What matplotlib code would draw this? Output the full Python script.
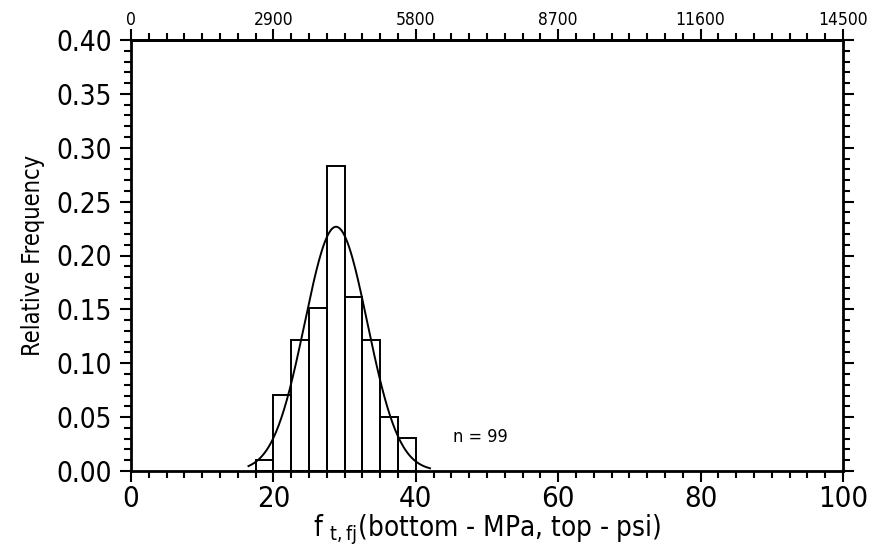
import numpy as np
import matplotlib
matplotlib.use('Agg')
from matplotlib import pyplot as plt
from matplotlib import font_manager
from matplotlib.ticker import MultipleLocator, FormatStrFormatter

# look for a narrow face, the original uses a very condensed plotter font
narrow = [f for f in font_manager.fontManager.ttflist
          if ('Narrow' in f.name or f.stretch in ('condensed', 'semi-condensed', 'extra-condensed'))
          and f.weight in (400, 'normal', 'regular')]
if narrow:
    plt.rcParams['font.family'] = [narrow[0].name, 'DejaVu Sans']
    plt.rcParams['font.stretch'] = narrow[0].stretch
    scale = 1.0
else:
    plt.rcParams['font.family'] = ['Liberation Sans', 'DejaVu Sans']
    scale = 0.9
plt.rcParams['mathtext.default'] = 'regular'

# histogram data (MPa), n = 99
bin_edges = [17.5, 20, 22.5, 25, 27.5, 30, 32.5, 35, 37.5, 40]
counts = [1, 7, 12, 15, 28, 16, 12, 5, 3]
n_total = 99
# fitted normal curve
fit_mean = 28.8
fit_std = 4.4

rel_freq = np.array(counts) / n_total
edges = np.array(bin_edges)
widths = np.diff(edges)

fig = plt.figure(figsize=(8.69, 5.56), dpi=100)
ax = fig.add_axes([131/869, 1-471/556, (843-131)/869, (471-40)/556])

ax.bar(edges[:-1], rel_freq, width=widths, align='edge', facecolor='none',
       edgecolor='black', linewidth=1.4)

xc = np.linspace(16.5, 42, 200)
yc = widths[0] * np.exp(-0.5*((xc-fit_mean)/fit_std)**2) / (fit_std*np.sqrt(2*np.pi))
ax.plot(xc, yc, color='black', linewidth=1.4)

ax.text(49, 0.032, 'n = 99', ha='center', va='center', fontsize=13*scale)

ax.set_xlim(0, 100)
ax.set_ylim(0, 0.40)
ax.xaxis.set_major_locator(MultipleLocator(20))
ax.xaxis.set_minor_locator(MultipleLocator(2.5))
ax.yaxis.set_major_locator(MultipleLocator(0.05))
ax.yaxis.set_minor_locator(MultipleLocator(0.01))
ax.yaxis.set_major_formatter(FormatStrFormatter('%.2f'))
ax.tick_params(which='both', direction='out', right=True, width=1.5)
ax.tick_params(axis='y', which='major', length=8, labelsize=20*scale, pad=6)
ax.tick_params(axis='x', which='major', length=8, labelsize=21*scale, pad=2)
ax.tick_params(which='minor', length=5)
for s in ax.spines.values():
    s.set_linewidth(2)

top = ax.secondary_xaxis('top', functions=(lambda x: x*145, lambda p: p/145))
top.xaxis.set_major_locator(MultipleLocator(2900))
top.xaxis.set_minor_locator(MultipleLocator(362.5))
top.tick_params(which='both', direction='out', width=1.5)
top.tick_params(which='major', length=8, labelsize=12.5*scale, pad=0)
top.tick_params(which='minor', length=5)
top.spines['top'].set_linewidth(2)

ax.set_ylabel('Relative Frequency', fontsize=17*scale, labelpad=8)
ax.set_xlabel(r'f $_{t,fj}$(bottom - MPa, top - psi)', fontsize=20*scale, labelpad=0)

fig.savefig('out.png', dpi=100)
